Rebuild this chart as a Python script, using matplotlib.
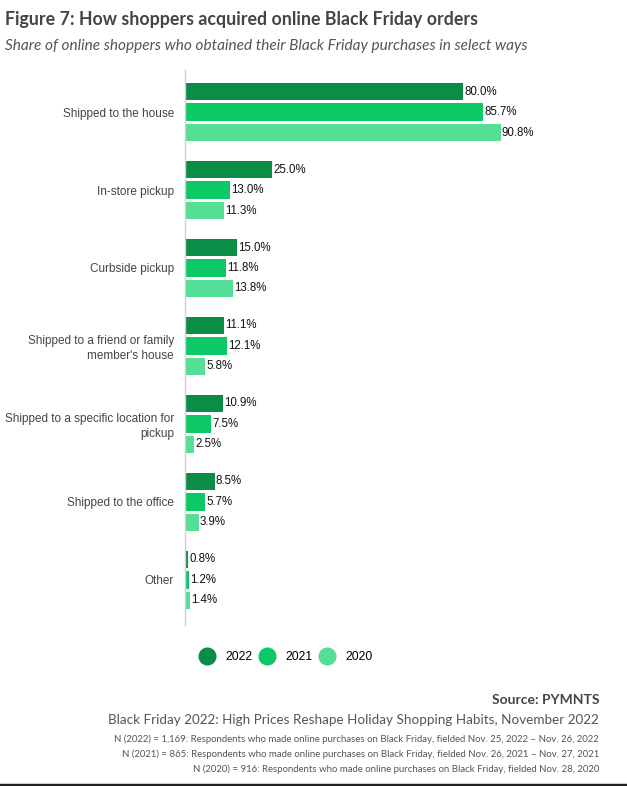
import matplotlib
matplotlib.use("Agg")
import matplotlib.pyplot as plt
from matplotlib.lines import Line2D
import numpy as np

categories = ["Shipped to the house", "In-store pickup", "Curbside pickup",
              "Shipped to a friend or family\nmember's house",
              "Shipped to a specific location for\npickup",
              "Shipped to the office", "Other"]
years = ["2022", "2021", "2020"]
v2022 = [80.0, 25.0, 15.0, 11.1, 10.9, 8.5, 0.8]
v2021 = [85.7, 13.0, 11.8, 12.1, 7.5, 5.7, 1.2]
v2020 = [90.8, 11.3, 13.8, 5.8, 2.5, 3.9, 1.4]
colors = ["#0b8c47", "#0cc965", "#55de95"]

W, H = 627, 786
fig = plt.figure(figsize=(W / 100, H / 100), dpi=100)
ax = fig.add_axes([185 / W, 161 / H, 420 / W, 555 / H])

y = np.arange(len(categories))
pitch = 20.5 / 78
height = 17.5 / 78
for k, (vals, col) in enumerate(zip([v2022, v2021, v2020], colors)):
    pos = y + (k - 1) * pitch
    ax.barh(pos, vals, height, color=col, label=years[k])
    for p, v in zip(pos, vals):
        ax.text(v + 0.4, p, "%.1f%%" % v, va="center", ha="left",
                fontsize=8.3, family="Liberation Sans", color="#111111")

ax.set_xlim(0, 420 / 3.475)
ax.set_ylim(6.58, -0.54)
ax.set_yticks(y)
ax.set_yticklabels(categories, fontsize=8.5, family="Liberation Sans", color="#444444",
                   linespacing=1.3)
ax.tick_params(axis="y", length=0, pad=8)
ax.set_xticks([])
for s in ["top", "right", "bottom"]:
    ax.spines[s].set_visible(False)
ax.spines["left"].set_color("#d0d0d0")
ax.spines["left"].set_linewidth(1)

handles = [Line2D([], [], marker="o", ls="", markersize=12, color=c) for c in colors]
fig.legend(handles, years, loc="center", bbox_to_anchor=(284 / W, 1 - 657 / H),
           ncol=3, frameon=False, handletextpad=0.5, columnspacing=0.2,
           prop={"family": "Liberation Sans", "size": 8.8})

fig.text(5 / W, 1 - 20 / H, "Figure 7: How shoppers acquired online Black Friday orders",
         family="Lato", weight="bold", fontsize=12.75, color="#444444", va="center")
fig.text(5 / W, 1 - 46 / H, "Share of online shoppers who obtained their Black Friday purchases in select ways",
         family="Lato", style="italic", fontsize=11.1, color="#555555", va="center")

rx = 599 / W
fig.text(rx, 1 - 700 / H, "Source: PYMNTS", family="Lato", weight="bold",
         fontsize=10, color="#444444", ha="right", va="center")
fig.text(rx, 1 - 720 / H, "Black Friday 2022: High Prices Reshape Holiday Shopping Habits, November 2022",
         family="Lato", fontsize=9.75, color="#555555", ha="right", va="center")
notes = ["N (2022) = 1,169: Respondents who made online purchases on Black Friday, fielded Nov. 25, 2022 \u2013 Nov. 26, 2022",
         "N (2021) = 865: Respondents who made online purchases on Black Friday, fielded Nov. 26, 2021 \u2013 Nov. 27, 2021",
         "N (2020) = 916: Respondents who made online purchases on Black Friday, fielded Nov. 28, 2020"]
for i, n in enumerate(notes):
    fig.text(rx, 1 - (739 + 15 * i) / H, n, family="Lato", fontsize=6.95,
             color="#555555", ha="right", va="center")

fig.add_artist(Line2D([0, 1], [1.5 / H, 1.5 / H], color="#222222", lw=2.5))

fig.savefig("out.png", dpi=100)
